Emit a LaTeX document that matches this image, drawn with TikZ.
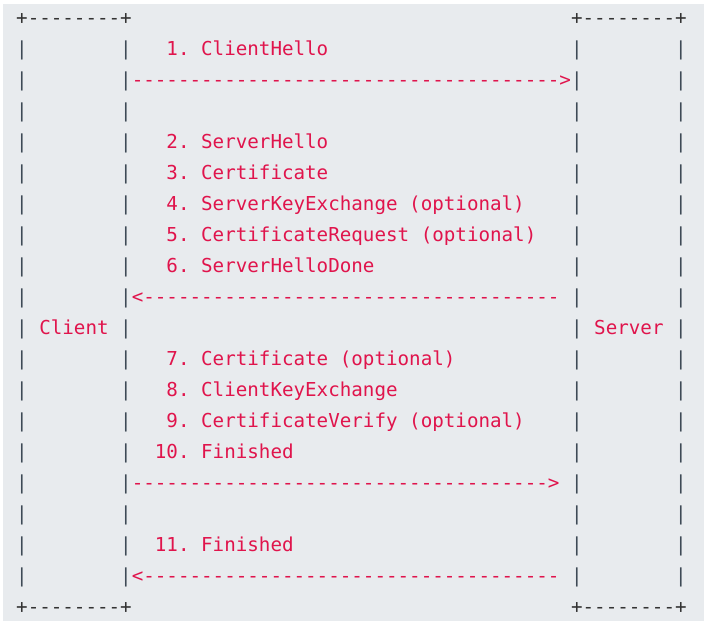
\documentclass[tikz,border=0pt]{standalone}
\usepackage{fontspec}
\setmonofont{DejaVu Sans Mono}
\definecolor{bgc}{HTML}{E8EBEE}
\definecolor{redc}{HTML}{E0144C}
\definecolor{boxc}{HTML}{333333}
\definecolor{barc}{HTML}{3E4A56}
\newcommand\tline[5]{\node[ch,#5] (#1) at ({16.2+(#3)*11.56},{24.5+31*(#2)}) {#4};}
\begin{document}
\begin{tikzpicture}[x=1pt,y=-1pt,
  ch/.style={anchor=base west, inner sep=0pt, outer sep=0pt, font=\ttfamily\fontsize{19.2}{23}\selectfont},
  msg/.style={text=redc},
  frame/.style={text=boxc}]
\useasboundingbox (0,0) rectangle (711,625);
\fill[bgc] (3,4) rectangle (704,621);
% box corners
\tline{ctop}{0}{0}{+--------+}{frame}
\tline{stop}{0}{48}{+--------+}{frame}
\tline{cbot}{19}{0}{+--------+}{frame}
\tline{sbot}{19}{48}{+--------+}{frame}
% vertical bars
\foreach \r in {1,...,18}{
  \foreach \c/\n in {0/a,9/b,48/c,57/d}{
    \node[ch,text=barc] (bar\n\r) at ({16.2+\c*11.56},{24.5+31*\r}) {|};
  }
}
% labels
\tline{client}{10}{2}{Client}{msg}
\tline{server}{10}{50}{Server}{msg}
% messages
\tline{m1}{1}{13}{1. ClientHello}{msg}
\tline{a1}{2}{10}{------------------------------------->}{msg}
\tline{m2}{4}{13}{2. ServerHello}{msg}
\tline{m3}{5}{13}{3. Certificate}{msg}
\tline{m4}{6}{13}{4. ServerKeyExchange (optional)}{msg}
\tline{m5}{7}{13}{5. CertificateRequest (optional)}{msg}
\tline{m6}{8}{13}{6. ServerHelloDone}{msg}
\tline{a2}{9}{10}{<------------------------------------}{msg}
\tline{m7}{11}{13}{7. Certificate (optional)}{msg}
\tline{m8}{12}{13}{8. ClientKeyExchange}{msg}
\tline{m9}{13}{13}{9. CertificateVerify (optional)}{msg}
\tline{m10}{14}{12}{10. Finished}{msg}
\tline{a3}{15}{10}{------------------------------------>}{msg}
\tline{m11}{17}{12}{11. Finished}{msg}
\tline{a4}{18}{10}{<------------------------------------}{msg}
\end{tikzpicture}
\end{document}
